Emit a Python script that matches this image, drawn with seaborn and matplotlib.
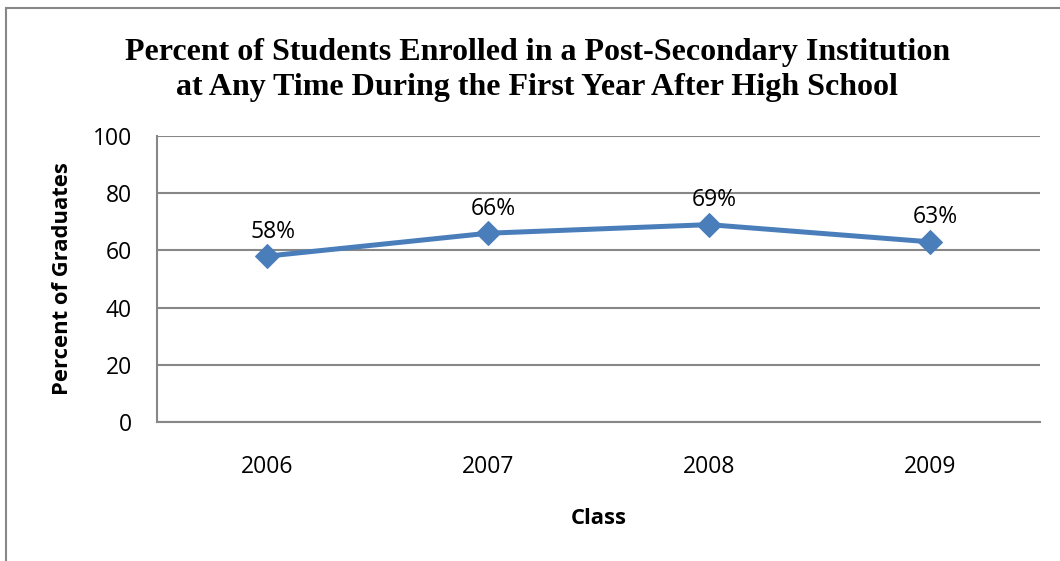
import matplotlib
matplotlib.use("Agg")
import matplotlib.pyplot as plt
import seaborn as sns
import pandas as pd
from matplotlib.patches import Rectangle

years = ["2006", "2007", "2008", "2009"]
percent = [58, 66, 69, 63]
y_ticks = [0, 20, 40, 60, 80, 100]

df = pd.DataFrame({"Class": years, "Percent": percent})

sns.set_style("white")
plt.rcParams["font.family"] = ["Open Sans", "DejaVu Sans"]
plt.rcParams["text.color"] = "black"

fig = plt.figure(figsize=(10.6, 5.61), dpi=100)
ax = fig.add_axes([0.1481, 0.2478, 0.833, 0.5098])

blue = "#4A7EBB"
sns.lineplot(data=df, x="Class", y="Percent", ax=ax, color=blue, linewidth=3.6,
             marker="D", markersize=12, markeredgecolor=blue, sort=False)

for i, v in enumerate(percent):
    ax.annotate(f"{v}%", (i, v), xytext=(4, 9), textcoords="offset points",
                ha="center", va="bottom", fontsize=16.5, color="black")

ax.set_xlim(-0.5, len(years) - 0.5)
ax.set_ylim(0, 100)
ax.set_yticks(y_ticks)
ax.yaxis.grid(True, color="#878787", linewidth=1.5)
ax.set_axisbelow(True)
ax.tick_params(axis="both", length=0, labelsize=16.5, colors="black")
ax.tick_params(axis="x", pad=24)
ax.tick_params(axis="y", pad=18)

for side in ["top", "right"]:
    ax.spines[side].set_visible(False)
for side in ["left", "bottom"]:
    ax.spines[side].set_color("#878787")
    ax.spines[side].set_linewidth(1.5)

ax.set_xlabel("Class", fontsize=15.8, fontweight="bold", labelpad=21, color="black")
ax.set_ylabel("Percent of Graduates", fontsize=15.8, fontweight="bold", labelpad=14,
              color="black")

fig.text(0.507, 0.875, "Percent of Students Enrolled in a Post-Secondary Institution\n"
         "at Any Time During the First Year After High School",
         ha="center", va="center", fontsize=23, fontweight="bold", color="black",
         family=["Liberation Serif", "DejaVu Serif"], linespacing=1.3)

# outer chart border (only left and top visible in the crop)
fig.patches.append(Rectangle((0.0057, -0.1), 1.2, 1.086, transform=fig.transFigure,
                             fill=False, edgecolor="#878787", linewidth=1.5))

fig.savefig("out.png", dpi=100)
